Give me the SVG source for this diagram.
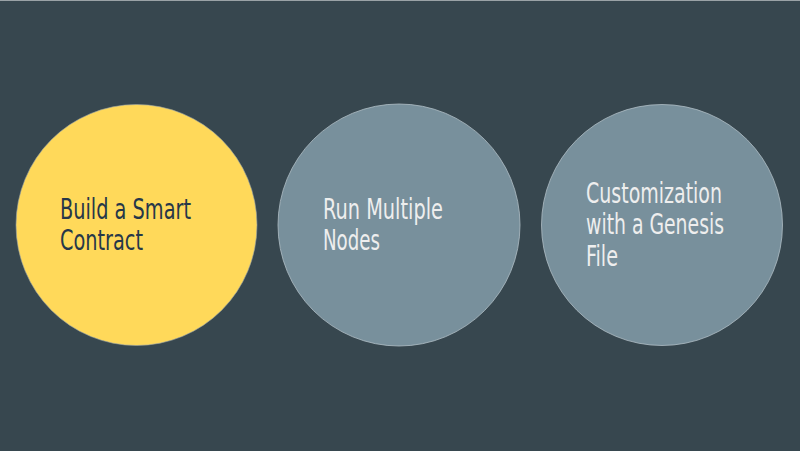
<svg xmlns="http://www.w3.org/2000/svg" width="800" height="451" viewBox="0 0 800 451">
<style>
.bg{fill:#37474f}
.yc{fill:#ffd95a;stroke:#9aa4a8;stroke-width:0.6}
.gc{fill:#78909c;stroke:#b0bec5;stroke-width:0.8}
text{font-family:"DejaVu Sans Condensed","DejaVu Sans","Liberation Sans",sans-serif;font-stretch:condensed;font-size:29px}
.dk{fill:#263749}
.lt{fill:#eeeeee}
</style>
<rect class="bg" x="0" y="0" width="800" height="451"/>
<rect x="0" y="0" width="800" height="1" fill="#9aa2a6"/>
<g id="node1">
<circle class="yc" cx="136.5" cy="225" r="120.5"/>
<text class="dk" x="60" y="219" textLength="131" lengthAdjust="spacingAndGlyphs">Build a Smart</text>
<text class="dk" x="60" y="250" textLength="83" lengthAdjust="spacingAndGlyphs">Contract</text>
</g>
<g id="node2">
<circle class="gc" cx="399" cy="225" r="121"/>
<text class="lt" x="323" y="219" textLength="120" lengthAdjust="spacingAndGlyphs">Run Multiple</text>
<text class="lt" x="323" y="250" textLength="57" lengthAdjust="spacingAndGlyphs">Nodes</text>
</g>
<g id="node3">
<circle class="gc" cx="662" cy="225" r="120.5"/>
<text class="lt" x="586" y="203" textLength="136" lengthAdjust="spacingAndGlyphs">Customization</text>
<text class="lt" x="586" y="234" textLength="138" lengthAdjust="spacingAndGlyphs">with a Genesis</text>
<text class="lt" x="586" y="266" textLength="32" lengthAdjust="spacingAndGlyphs">File</text>
</g>
<g id="connectors"/>
</svg>
